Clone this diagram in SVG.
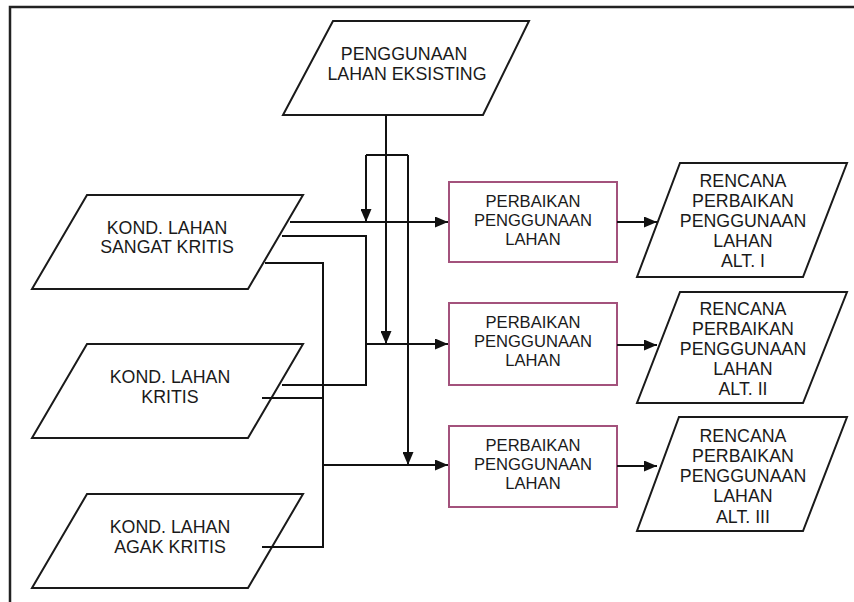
<svg xmlns="http://www.w3.org/2000/svg" width="854" height="602" viewBox="0 0 854 602">
  <style>
    .shape { fill: #ffffff; stroke: #1a1a1a; stroke-width: 2; stroke-linejoin: miter; }
    .proc { fill: #ffffff; stroke: #a3527c; stroke-width: 2; }
    .lbl { font-family: "Liberation Sans", Arial, sans-serif; font-size: 17.8px; fill: #1a1a1a; text-anchor: middle; }
    .plbl { font-family: "Liberation Sans", Arial, sans-serif; font-size: 16.6px; fill: #1a1a1a; text-anchor: middle; }
    .wire { fill: none; stroke: #111111; stroke-width: 2; }
    .frame { fill: none; stroke: #222222; stroke-width: 2.5; }
  </style>
  <defs>
    <marker id="arrow" viewBox="0 0 13 11" refX="13" refY="5.5" markerWidth="13" markerHeight="11" markerUnits="userSpaceOnUse" orient="auto">
      <path d="M0,0 L13,5.5 L0,11 Z" fill="#111111"/>
    </marker>
  </defs>

  <rect width="854" height="602" fill="#ffffff"/>
  <path class="frame" d="M10,602 V7 H854"/>

  <!-- input: existing land use -->
  <g id="eksisting">
    <polygon class="shape" points="333,21 529,21 483,115 283,115"/>
    <text class="lbl" x="404" y="60">PENGGUNAAN</text>
    <text class="lbl" x="407" y="80">LAHAN EKSISTING</text>
  </g>

  <!-- inputs: land condition -->
  <g id="sangat-kritis">
    <polygon class="shape" points="87,195 303,195 248,289 32,289"/>
    <text class="lbl" x="167" y="234">KOND. LAHAN</text>
    <text class="lbl" x="167" y="253">SANGAT KRITIS</text>
  </g>
  <g id="kritis">
    <polygon class="shape" points="87,344 303,344 248,438 32,438"/>
    <text class="lbl" x="170" y="383">KOND. LAHAN</text>
    <text class="lbl" x="170" y="403">KRITIS</text>
  </g>
  <g id="agak-kritis">
    <polygon class="shape" points="87,494 303,494 248,588 32,588"/>
    <text class="lbl" x="170" y="533">KOND. LAHAN</text>
    <text class="lbl" x="170" y="553">AGAK KRITIS</text>
  </g>

  <!-- processes -->
  <g id="perbaikan-1">
    <rect class="proc" x="449" y="182" width="168" height="80"/>
    <text class="plbl" x="533" y="207">PERBAIKAN</text>
    <text class="plbl" x="533" y="226">PENGGUNAAN</text>
    <text class="plbl" x="533" y="245">LAHAN</text>
  </g>
  <g id="perbaikan-2">
    <rect class="proc" x="449" y="303" width="168" height="82"/>
    <text class="plbl" x="533" y="328">PERBAIKAN</text>
    <text class="plbl" x="533" y="347">PENGGUNAAN</text>
    <text class="plbl" x="533" y="366">LAHAN</text>
  </g>
  <g id="perbaikan-3">
    <rect class="proc" x="449" y="426" width="168" height="81"/>
    <text class="plbl" x="533" y="451">PERBAIKAN</text>
    <text class="plbl" x="533" y="470">PENGGUNAAN</text>
    <text class="plbl" x="533" y="489">LAHAN</text>
  </g>

  <!-- outputs -->
  <g id="rencana-1">
    <polygon class="shape" points="680,163 847,163 803,277 637,277"/>
    <text class="lbl" x="743" y="187">RENCANA</text>
    <text class="lbl" x="743" y="207">PERBAIKAN</text>
    <text class="lbl" x="743" y="227">PENGGUNAAN</text>
    <text class="lbl" x="743" y="247">LAHAN</text>
    <text class="lbl" x="743" y="267">ALT. I</text>
  </g>
  <g id="rencana-2">
    <polygon class="shape" points="680,292 847,292 803,403 637,403"/>
    <text class="lbl" x="743" y="315">RENCANA</text>
    <text class="lbl" x="743" y="335">PERBAIKAN</text>
    <text class="lbl" x="743" y="355">PENGGUNAAN</text>
    <text class="lbl" x="743" y="375">LAHAN</text>
    <text class="lbl" x="743" y="395">ALT. II</text>
  </g>
  <g id="rencana-3">
    <polygon class="shape" points="679,417 847,417 803,531 637,531"/>
    <text class="lbl" x="743" y="442">RENCANA</text>
    <text class="lbl" x="743" y="462">PERBAIKAN</text>
    <text class="lbl" x="743" y="482">PENGGUNAAN</text>
    <text class="lbl" x="743" y="502">LAHAN</text>
    <text class="lbl" x="743" y="523">ALT. III</text>
  </g>

  <g id="connectors">
    <!-- existing use split into three drops -->
    <path class="wire" d="M386,115 V155"/>
    <path class="wire" d="M366,155 H408"/>
    <path class="wire" d="M366,155 V222" marker-end="url(#arrow)"/>
    <path class="wire" d="M386,155 V344" marker-end="url(#arrow)"/>
    <path class="wire" d="M408,155 V465" marker-end="url(#arrow)"/>

    <!-- row 1 feed -->
    <path class="wire" d="M290,222 H448" marker-end="url(#arrow)"/>

    <!-- row 2 feed: sangat kritis + kritis -->
    <path class="wire" d="M282,236 H366 V385 H282"/>
    <path class="wire" d="M366,344 H448" marker-end="url(#arrow)"/>

    <!-- row 3 feed: all three conditions -->
    <path class="wire" d="M265,263 H323 V547 H262"/>
    <path class="wire" d="M262,398 H323"/>
    <path class="wire" d="M323,465 H448" marker-end="url(#arrow)"/>

    <!-- process to output -->
    <path class="wire" d="M617,222 H657" marker-end="url(#arrow)"/>
    <path class="wire" d="M617,345 H657" marker-end="url(#arrow)"/>
    <path class="wire" d="M617,466 H657" marker-end="url(#arrow)"/>
  </g>
</svg>
